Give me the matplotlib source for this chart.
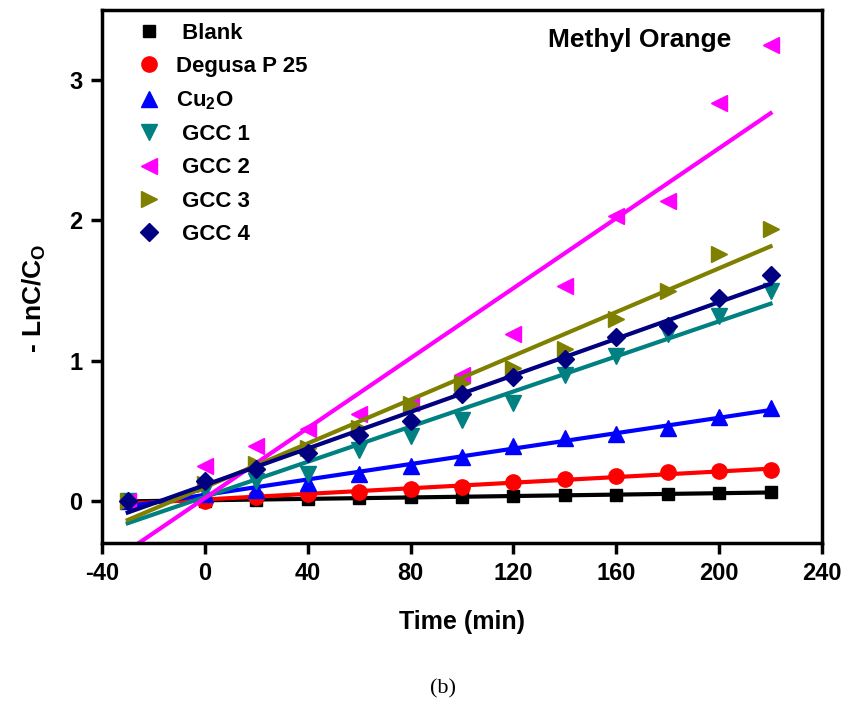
import numpy as np
import matplotlib
matplotlib.use("Agg")
import matplotlib.pyplot as plt

plt.rcParams['font.family'] = ['Liberation Sans', 'DejaVu Sans']
plt.rcParams['mathtext.fontset'] = 'custom'
plt.rcParams['mathtext.rm'] = 'Liberation Sans:bold'
plt.rcParams['mathtext.bf'] = 'Liberation Sans:bold'
plt.rcParams['mathtext.default'] = 'bf'
plt.rcParams['axes.unicode_minus'] = False

# time points (min)
time = [-30, 0, 20, 40, 60, 80, 100, 120, 140, 160, 180, 200, 220]

# -ln(C/C0)
blank = [0, 0.0, 0.01, 0.015, 0.02, 0.025, 0.03, 0.035, 0.04, 0.045, 0.05, 0.055, 0.06]
degussa = [0, 0.0, 0.025, 0.048, 0.06, 0.088, 0.10, 0.134, 0.155, 0.18, 0.205, 0.21, 0.217]
cu2o = [0, 0.05, 0.08, 0.126, 0.19, 0.25, 0.31, 0.39, 0.45, 0.48, 0.52, 0.60, 0.66]
gcc1 = [0, 0.08, 0.14, 0.19, 0.36, 0.46, 0.58, 0.70, 0.90, 1.03, 1.19, 1.32, 1.50]
gcc2 = [0, 0.25, 0.39, 0.51, 0.62, 0.70, 0.90, 1.19, 1.53, 2.03, 2.14, 2.84, 3.25]
gcc3 = [0, 0.12, 0.26, 0.38, 0.52, 0.69, 0.84, 0.95, 1.08, 1.30, 1.50, 1.76, 1.94]
gcc4 = [0, 0.14, 0.23, 0.34, 0.47, 0.57, 0.76, 0.88, 1.01, 1.17, 1.25, 1.45, 1.61]

labels = [' Blank', 'Degusa P 25', 'Cu$_2$O', ' GCC 1', ' GCC 2', ' GCC 3', ' GCC 4']
series = [blank, degussa, cu2o, gcc1, gcc2, gcc3, gcc4]
colors = ['black', '#ff0000', '#0000ff', '#008080', '#ff00ff', '#808000', '#000080']
markers = ['s', 'o', '^', 'v', '<', '>', 'D']
sizes = [9, 11, 11, 12, 12, 12, 9]

fig = plt.figure(figsize=(8.46, 7.02), dpi=100)
ax = fig.add_axes([0.1206, 0.2265, 0.851, 0.7593])

t = np.array(time)
for y, lab, c, m, s in zip(series, labels, colors, markers, sizes):
    ax.plot(t, y, linestyle='none', marker=m, color=c, markersize=s, label=lab)
    k, b = np.polyfit(t, y, 1)
    ax.plot(t, k * t + b, color=c, linewidth=3)

ax.set_xlim(-40, 240)
ax.set_ylim(-0.3, 3.5)
ax.set_xticks(range(-40, 241, 40))
ax.set_yticks([0, 1, 2, 3])

for sp in ax.spines.values():
    sp.set_linewidth(2.5)
ax.tick_params(direction='out', length=8, width=2.5, pad=6, labelsize=17)
for tl in ax.get_xticklabels() + ax.get_yticklabels():
    tl.set_fontweight('bold')

ax.set_xlabel('Time (min)', fontsize=18, fontweight='bold')
ax.xaxis.set_label_coords(0.5, -0.125)
ax.set_ylabel('- LnC/C$_O$', fontsize=19, fontweight='bold')
ax.yaxis.set_label_coords(-0.075, 0.46)

ax.text(0.747, 0.944, 'Methyl Orange', transform=ax.transAxes, fontsize=19,
        fontweight='bold', ha='center', va='center')

leg = ax.legend(loc='upper left', frameon=False, prop={'weight': 'bold', 'size': 16},
                handletextpad=0.5, labelspacing=0.55, borderaxespad=0.3,
                handlelength=1.5, bbox_to_anchor=(0.02, 1.005))

fig.text(0.524, 0.012, '(b)', fontsize=16, fontfamily='Liberation Serif', ha='center')

fig.savefig('out.png', dpi=100)
